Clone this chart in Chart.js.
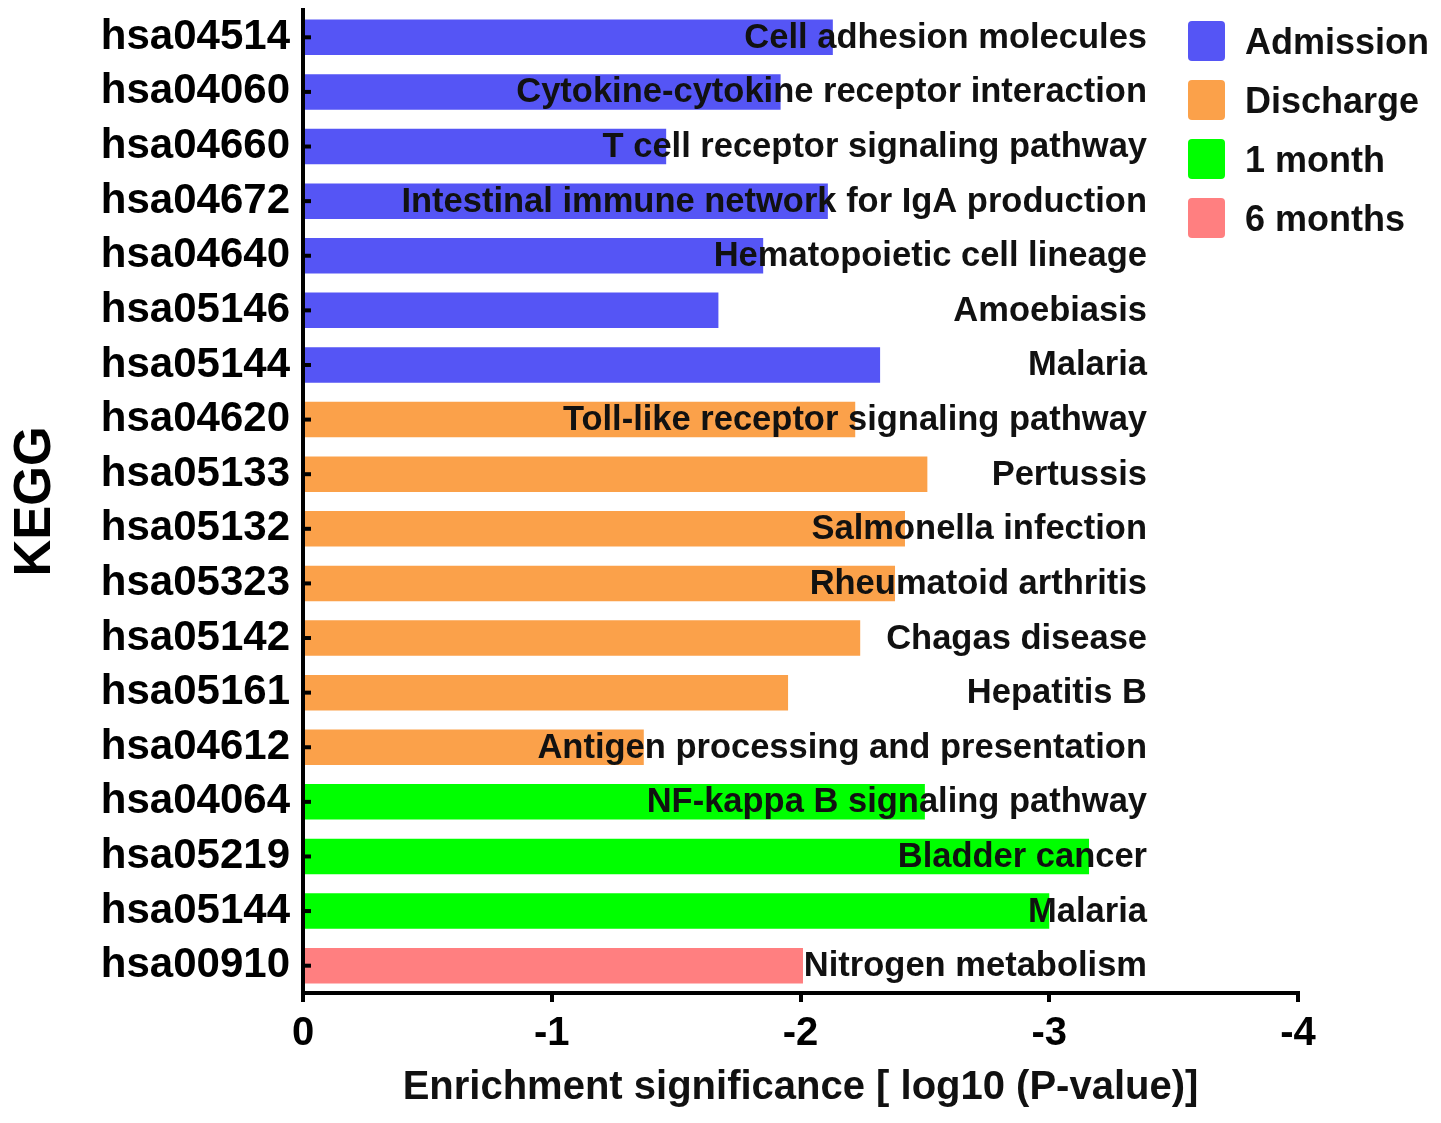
<!DOCTYPE html>
<html>
<head>
<meta charset="utf-8">
<script src="https://cdn.jsdelivr.net/npm/chart.js@4/dist/chart.umd.min.js"></script>
<style>
  html, body { margin: 0; padding: 0; background: #fff; }
  #wrap { width: 1441px; height: 1123px; }
</style>
</head>
<body>
<div id="wrap"><canvas id="c" width="1441" height="1123"></canvas></div>
<script>
const categories = ['hsa04514','hsa04060','hsa04660','hsa04672','hsa04640','hsa05146','hsa05144',
  'hsa04620','hsa05133','hsa05132','hsa05323','hsa05142','hsa05161','hsa04612',
  'hsa04064','hsa05219','hsa05144','hsa00910'];
const pathways = ['Cell adhesion molecules','Cytokine-cytokine receptor interaction','T cell receptor signaling pathway',
  'Intestinal immune network for IgA production','Hematopoietic cell lineage','Amoebiasis','Malaria',
  'Toll-like receptor signaling pathway','Pertussis','Salmonella infection','Rheumatoid arthritis',
  'Chagas disease','Hepatitis B','Antigen processing and presentation',
  'NF-kappa B signaling pathway','Bladder cancer','Malaria','Nitrogen metabolism'];
const values = [-2.13,-1.92,-1.46,-2.11,-1.85,-1.67,-2.32,
  -2.22,-2.51,-2.42,-2.38,-2.24,-1.95,-1.37,
  -2.50,-3.16,-3.00,-2.01];
const groupOf = ['Admission','Admission','Admission','Admission','Admission','Admission','Admission',
  'Discharge','Discharge','Discharge','Discharge','Discharge','Discharge','Discharge',
  '1 month','1 month','1 month','6 months'];
const groupNames = ['Admission','Discharge','1 month','6 months'];
const groupColors = ['#5555F5','#FBA14A','#00FF00','#FF7F80'];
const xTicks = [0,-1,-2,-3,-4];

const FONT = "'Liberation Sans', Arial, sans-serif";

const datasets = groupNames.map((g, gi) => ({
  label: g,
  data: values.map((v, i) => groupOf[i] === g ? v : null),
  backgroundColor: groupColors[gi],
  borderWidth: 0,
  categoryPercentage: 1.0,
  barPercentage: 0.65
}));

const decorPlugin = {
  id: 'decor',
  afterDatasetsDraw(chart) {
    const ctx = chart.ctx;
    const y = chart.scales.y;
    const area = chart.chartArea;
    ctx.save();
    // inward y tick marks
    ctx.strokeStyle = '#000';
    ctx.lineWidth = 4;
    categories.forEach((c, i) => {
      const py = y.getPixelForValue(i);
      ctx.beginPath();
      ctx.moveTo(area.left, py);
      ctx.lineTo(area.left + 8, py);
      ctx.stroke();
    });
    // pathway labels
    ctx.fillStyle = '#111';
    ctx.font = "bold 34.5px " + FONT;
    ctx.textAlign = 'right';
    ctx.textBaseline = 'middle';
    pathways.forEach((p, i) => {
      const py = y.getPixelForValue(i);
      ctx.fillText(p, area.right - 151, py + 1);
    });
    // legend
    const lx = area.right - 110;
    chart.data.datasets.forEach((ds, i) => {
      const cy = 41 + i * 59;
      ctx.fillStyle = ds.backgroundColor;
      ctx.beginPath();
      if (ctx.roundRect) ctx.roundRect(lx, cy - 20, 37, 40, 4); else ctx.rect(lx, cy - 20, 37, 40);
      ctx.fill();
      ctx.fillStyle = '#111';
      ctx.font = "bold 36px " + FONT;
      ctx.textAlign = 'left';
      ctx.textBaseline = 'middle';
      ctx.fillText(ds.label, lx + 57, cy + 3);
    });
    ctx.restore();
  }
};

new Chart(document.getElementById('c'), {
  type: 'bar',
  data: { labels: categories, datasets },
  options: {
    indexAxis: 'y',
    responsive: false,
    devicePixelRatio: 1,
    animation: false,
    layout: { padding: { left: 0, top: 10, right: 143, bottom: 0 } },
    plugins: { legend: { display: false }, tooltip: { enabled: false } },
    scales: {
      x: {
        type: 'linear',
        min: -4, max: 0,
        reverse: true,
        stacked: true,
        afterFit(scale) { scale.height = 130; scale.paddingLeft = 0; scale.paddingRight = 0; },
        afterBuildTicks(scale) { scale.ticks = xTicks.map(v => ({ value: v })); },
        ticks: {
          color: '#000',
          font: { family: FONT, size: 40, weight: 'bold' },
          padding: 8,
          callback: v => String(v)
        },
        grid: { display: true, drawOnChartArea: false, drawTicks: true, tickLength: 9, lineWidth: 4, color: '#000' },
        border: { display: true, width: 4, color: '#000' },
        title: {
          display: true,
          text: 'Enrichment significance [ log10 (P-value)]',
          color: '#111',
          font: { family: FONT, size: 40, weight: 'bold', lineHeight: 1 },
          padding: { top: 0, bottom: 15 }
        }
      },
      y: {
        stacked: true,
        afterFit(scale) { scale.width = 303; scale.paddingTop = 0; scale.paddingBottom = 0; },
        ticks: {
          color: '#000',
          font: { family: FONT, size: 42, weight: 'bold' },
          padding: 13
        },
        grid: { display: false, drawTicks: false },
        border: { display: true, width: 4, color: '#000' },
        title: {
          display: true,
          text: 'KEGG',
          color: '#000',
          font: { family: FONT, size: 51, weight: 'bold', lineHeight: 1 },
          padding: { top: 10, bottom: 0 }
        }
      }
    }
  },
  plugins: [decorPlugin]
});
</script>
</body>
</html>
